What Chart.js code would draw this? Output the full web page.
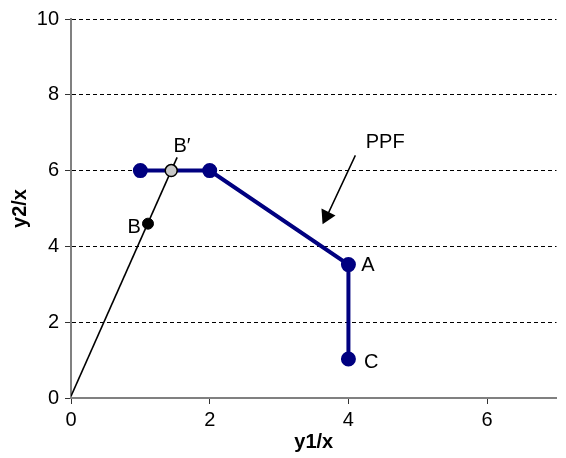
<!DOCTYPE html>
<html>
<head>
<meta charset="utf-8">
<script src="https://cdn.jsdelivr.net/npm/chart.js@4/dist/chart.umd.min.js"></script>
<style>
  body { margin: 0; background: #fff; }
  #wrap { width: 566px; height: 458px; }
</style>
</head>
<body>
<div id="wrap"><canvas id="myChart" width="566" height="458"></canvas></div>
<script>
// production possibility frontier
const ppfX = [1, 2, 4, 4]
const ppfY = [6, 6, 3.52, 1.03]
// ray from origin through B and B'
const rayX = [0, 1.53]
const rayY = [0.05, 6.35]
const bX = [1.11], bY = [4.6]
const bpX = [1.445], bpY = [6]
// arrow pointing at the PPF
const arrowX = [4.1, 3.66, 3.684]
const arrowY = [6.4, 4.68, 4.8]
// text labels
const labelText = ['B\u2032', 'B', 'PPF', 'A', 'C']
const labelX = [1.6, 0.91, 4.53, 4.28, 4.33]
const labelY = [6.63, 4.51, 6.73, 3.49, 0.94]

const xTicks = [0, 2, 4, 6]
const yTicks = [0, 2, 4, 6, 8, 10]

const toPts = (xs, ys) => xs.map((x, i) => ({x: x, y: ys[i]}))
const navy = '#000080'
const fontFam = '"Liberation Sans", Arial, sans-serif'

const labelPlugin = {
  id: 'labels',
  afterDatasetsDraw(chart) {
    const ctx = chart.ctx
    const sx = chart.scales.x, sy = chart.scales.y
    ctx.save()
    ctx.font = '20px ' + fontFam
    ctx.fillStyle = '#000'
    ctx.textAlign = 'center'
    ctx.textBaseline = 'middle'
    labelText.forEach((t, i) => {
      ctx.fillText(t, sx.getPixelForValue(labelX[i]), sy.getPixelForValue(labelY[i]))
    })
    ctx.restore()
  }
}

const ctx = document.getElementById('myChart')
new Chart(ctx, {
  type: 'scatter',
  data: {
    datasets: [
      { // B'
        data: toPts(bpX, bpY),
        pointRadius: 6,
        pointBackgroundColor: '#c8c8c8',
        pointBorderColor: '#000',
        pointBorderWidth: 1.5,
        showLine: false
      },
      { // B
        data: toPts(bX, bY),
        pointRadius: 5.5,
        pointBackgroundColor: '#000',
        pointBorderColor: '#000',
        showLine: false
      },
      { // ray
        data: toPts(rayX, rayY),
        showLine: true,
        borderColor: '#000',
        borderWidth: 1.6,
        pointRadius: 0
      },
      { // PPF
        data: toPts(ppfX, ppfY),
        showLine: true,
        borderColor: navy,
        borderWidth: 4,
        pointRadius: 5.5,
        pointBackgroundColor: navy,
        pointBorderColor: navy,
        tension: 0
      },
      { // arrow
        data: toPts(arrowX, arrowY),
        showLine: true,
        borderColor: '#000',
        borderWidth: 1.5,
        pointRadius: [0, 0, 9],
        pointStyle: 'triangle',
        rotation: 206,
        pointBackgroundColor: '#000',
        pointBorderColor: '#000',
        pointBorderWidth: 0
      }
    ]
  },
  options: {
    responsive: false,
    animation: false,
    layout: { padding: { top: 19, right: 5, left: 0, bottom: 0 } },
    plugins: { legend: { display: false }, tooltip: { enabled: false } },
    scales: {
      x: {
        type: 'linear',
        min: 0,
        max: 7,
        afterBuildTicks: s => { s.ticks = xTicks.map(v => ({value: v})) },
        afterFit: s => { s.height = 60 },
        ticks: { font: { size: 20, family: fontFam }, color: '#000', padding: 4 },
        grid: { drawOnChartArea: false, drawTicks: true, tickLength: 6, tickColor: '#333', tickWidth: 1 },
        border: { color: '#808080', width: 2 },
        title: { display: true, text: 'y1/x', color: '#000', font: { size: 20, weight: 'bold', family: fontFam }, padding: { top: 0, bottom: 4 } }
      },
      y: {
        min: 0,
        max: 10,
        afterBuildTicks: s => { s.ticks = yTicks.map(v => ({value: v})) },
        afterFit: s => { s.width = 71 },
        ticks: { font: { size: 20, family: fontFam }, color: '#000', padding: 6 },
        grid: {
          color: c => c.tick && c.tick.value === 0 ? 'rgba(0,0,0,0)' : '#000',
          lineWidth: 1,
          tickLength: 6,
          tickColor: '#333',
          tickBorderDash: []
        },
        border: { color: '#808080', width: 2, dash: [4, 3] },
        title: { display: true, text: 'y2/x', color: '#000', font: { size: 20, weight: 'bold', family: fontFam }, padding: { top: 8, bottom: 0 } }
      }
    }
  },
  plugins: [labelPlugin]
})
</script>
</body>
</html>
